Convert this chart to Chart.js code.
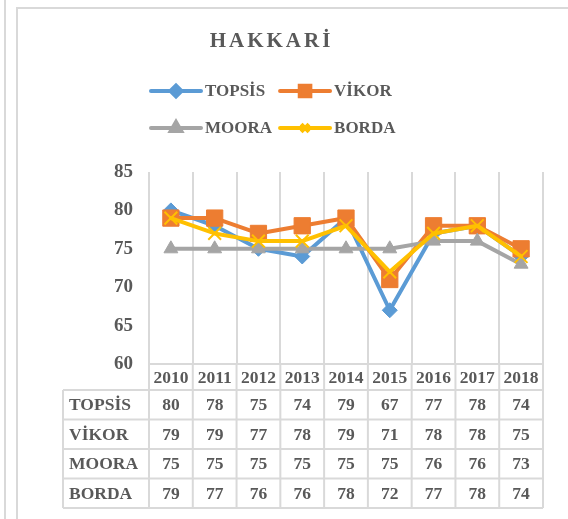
<!DOCTYPE html>
<html>
<head>
<meta charset="utf-8">
<script src="https://cdn.jsdelivr.net/npm/chart.js@4"></script>
<style>
  html, body { margin: 0; padding: 0; background: #fff; }
  canvas { display: block; }
</style>
</head>
<body>
<canvas id="chart" width="568" height="519"></canvas>
<script>
const chartTitle = "HAKKARİ";
const years = ["2010", "2011", "2012", "2013", "2014", "2015", "2016", "2017", "2018"];
const seriesNames = ["TOPSİS", "VİKOR", "MOORA", "BORDA"];
const topsis = [80, 78, 75, 74, 79, 67, 77, 78, 74];
const vikor  = [79, 79, 77, 78, 79, 71, 78, 78, 75];
const moora  = [75, 75, 75, 75, 75, 75, 76, 76, 73];
const borda  = [79, 77, 76, 76, 78, 72, 77, 78, 74];
const yTickMin = 60, yTickMax = 85, yTickStep = 5;

const FONT = "'Liberation Serif', 'Times New Roman', serif";
const TEXT = "#595959";
const GRID = "#D9D9D9";

// look of each series: colour, marker, marker radius (chart / legend)
const looks = [
  { color: "#5B9BD5", marker: "rectRot",  r: 7.5, lr: 5.5 },
  { color: "#ED7D31", marker: "rect",     r: 11.5, lr: 7.5 },
  { color: "#A5A5A5", marker: "triangle", r: 8,   lr: 6 },
  { color: "#FFC000", marker: "crossRot", r: 9,   lr: 5.5 }
];
const values = [topsis, vikor, moora, borda];

const datasets = seriesNames.map((name, i) => ({
  label: name,
  data: values[i],
  borderColor: looks[i].color,
  backgroundColor: looks[i].color,
  borderWidth: 4,
  borderCapStyle: "round",
  borderJoinStyle: "round",
  pointStyle: looks[i].marker,
  pointRadius: looks[i].r,
  pointBorderWidth: looks[i].marker === "crossRot" ? 2 : 1,
  pointBackgroundColor: looks[i].color,
  pointBorderColor: looks[i].color,
  tension: 0,
  order: seriesNames.length - i
}));

const extras = {
  id: "extras",
  beforeDraw(chart) {
    const ctx = chart.ctx;
    ctx.save();
    ctx.fillStyle = "#fff";
    ctx.fillRect(0, 0, chart.width, chart.height);
    ctx.strokeStyle = GRID;
    ctx.lineWidth = 2;
    ctx.beginPath();
    ctx.moveTo(5, 0); ctx.lineTo(5, chart.height);
    ctx.moveTo(17, chart.height); ctx.lineTo(17, 8); ctx.lineTo(chart.width, 8);
    ctx.stroke();
    ctx.restore();
  },
  afterDraw(chart) {
    const ctx = chart.ctx;
    const area = chart.chartArea;
    const xs = chart.scales.x;
    ctx.save();

    // title
    ctx.fillStyle = TEXT;
    ctx.font = "bold 21px " + FONT;
    ctx.letterSpacing = "3px";
    ctx.textAlign = "left";
    ctx.textBaseline = "middle";
    const tw = ctx.measureText(chartTitle).width - 3;
    ctx.fillText(chartTitle, 270 - tw / 2, 42);
    ctx.letterSpacing = "0px";

    // legend, two per row
    ctx.font = "bold 17px " + FONT;
    const lineLen = 50;
    const col1W = Math.max(ctx.measureText(seriesNames[0]).width, ctx.measureText(seriesNames[2]).width);
    const colX = [151, 151 + lineLen + 4 + col1W + 8];
    const rowY = [91, 128];
    datasets.forEach((ds, i) => {
      const x = colX[i % 2], y = rowY[Math.floor(i / 2)];
      ctx.strokeStyle = ds.borderColor;
      ctx.fillStyle = ds.borderColor;
      ctx.lineWidth = 4;
      ctx.lineCap = "round";
      ctx.beginPath();
      ctx.moveTo(x, y); ctx.lineTo(x + lineLen, y);
      ctx.stroke();
      ctx.lineCap = "butt";
      Chart.helpers.drawPoint(ctx, {
        pointStyle: looks[i].marker,
        radius: looks[i].lr,
        borderWidth: looks[i].marker === "crossRot" ? 2 : 1,
        rotation: 0
      }, x + lineLen / 2, y);
      ctx.fillStyle = TEXT;
      ctx.textAlign = "left";
      ctx.textBaseline = "middle";
      ctx.fillText(ds.label, x + lineLen + 4, y + 1);
    });

    // data table under the plot
    const n = years.length;
    const colW = (area.right - area.left) / n;
    const headTop = area.bottom;
    const headBot = headTop + 26;
    const rowH = 29.5;
    const tableLeft = 63;
    const tableBot = headBot + rowH * seriesNames.length;

    ctx.strokeStyle = GRID;
    ctx.lineWidth = 2;
    ctx.beginPath();
    ctx.moveTo(area.left, headTop); ctx.lineTo(area.right, headTop);
    for (let r = 0; r <= seriesNames.length; r++) {
      const y = headBot + r * rowH;
      ctx.moveTo(tableLeft, y); ctx.lineTo(area.right, y);
    }
    ctx.moveTo(tableLeft, headBot); ctx.lineTo(tableLeft, tableBot);
    for (let c = 0; c <= n; c++) {
      const x = area.left + c * colW;
      ctx.moveTo(x, headTop); ctx.lineTo(x, tableBot);
    }
    ctx.stroke();

    ctx.fillStyle = TEXT;
    ctx.textBaseline = "middle";
    ctx.font = "bold 17.5px " + FONT;
    ctx.textAlign = "center";
    years.forEach((yr, c) => ctx.fillText(yr, xs.getPixelForValue(c), (headTop + headBot) / 2 + 1));
    datasets.forEach((ds, r) => {
      const y = headBot + r * rowH + rowH / 2 + 1;
      ctx.textAlign = "left";
      ctx.fillText(ds.label, tableLeft + 6, y);
      ctx.textAlign = "center";
      ds.data.forEach((v, c) => ctx.fillText(String(v), xs.getPixelForValue(c), y));
    });
    ctx.restore();
  }
};

new Chart(document.getElementById("chart"), {
  type: "line",
  data: { labels: years, datasets },
  options: {
    responsive: false,
    devicePixelRatio: 1,
    animation: false,
    layout: { padding: { left: 0, top: 172, right: 25, bottom: 155 } },
    plugins: {
      legend: { display: false },
      title: { display: false },
      tooltip: { enabled: false }
    },
    scales: {
      x: {
        type: "category",
        offset: true,
        grid: { offset: true, color: GRID, lineWidth: 2, drawTicks: false },
        border: { display: false },
        ticks: { display: false },
        afterFit: s => { s.height = 0; }
      },
      y: {
        min: yTickMin,
        max: yTickMax,
        ticks: {
          stepSize: yTickStep,
          color: TEXT,
          padding: 16,
          font: { family: FONT, weight: "bold", size: 19 }
        },
        grid: { display: false, drawTicks: false },
        border: { display: false },
        afterFit: s => { s.width = 149; }
      }
    }
  },
  plugins: [extras]
});
</script>
</body>
</html>
